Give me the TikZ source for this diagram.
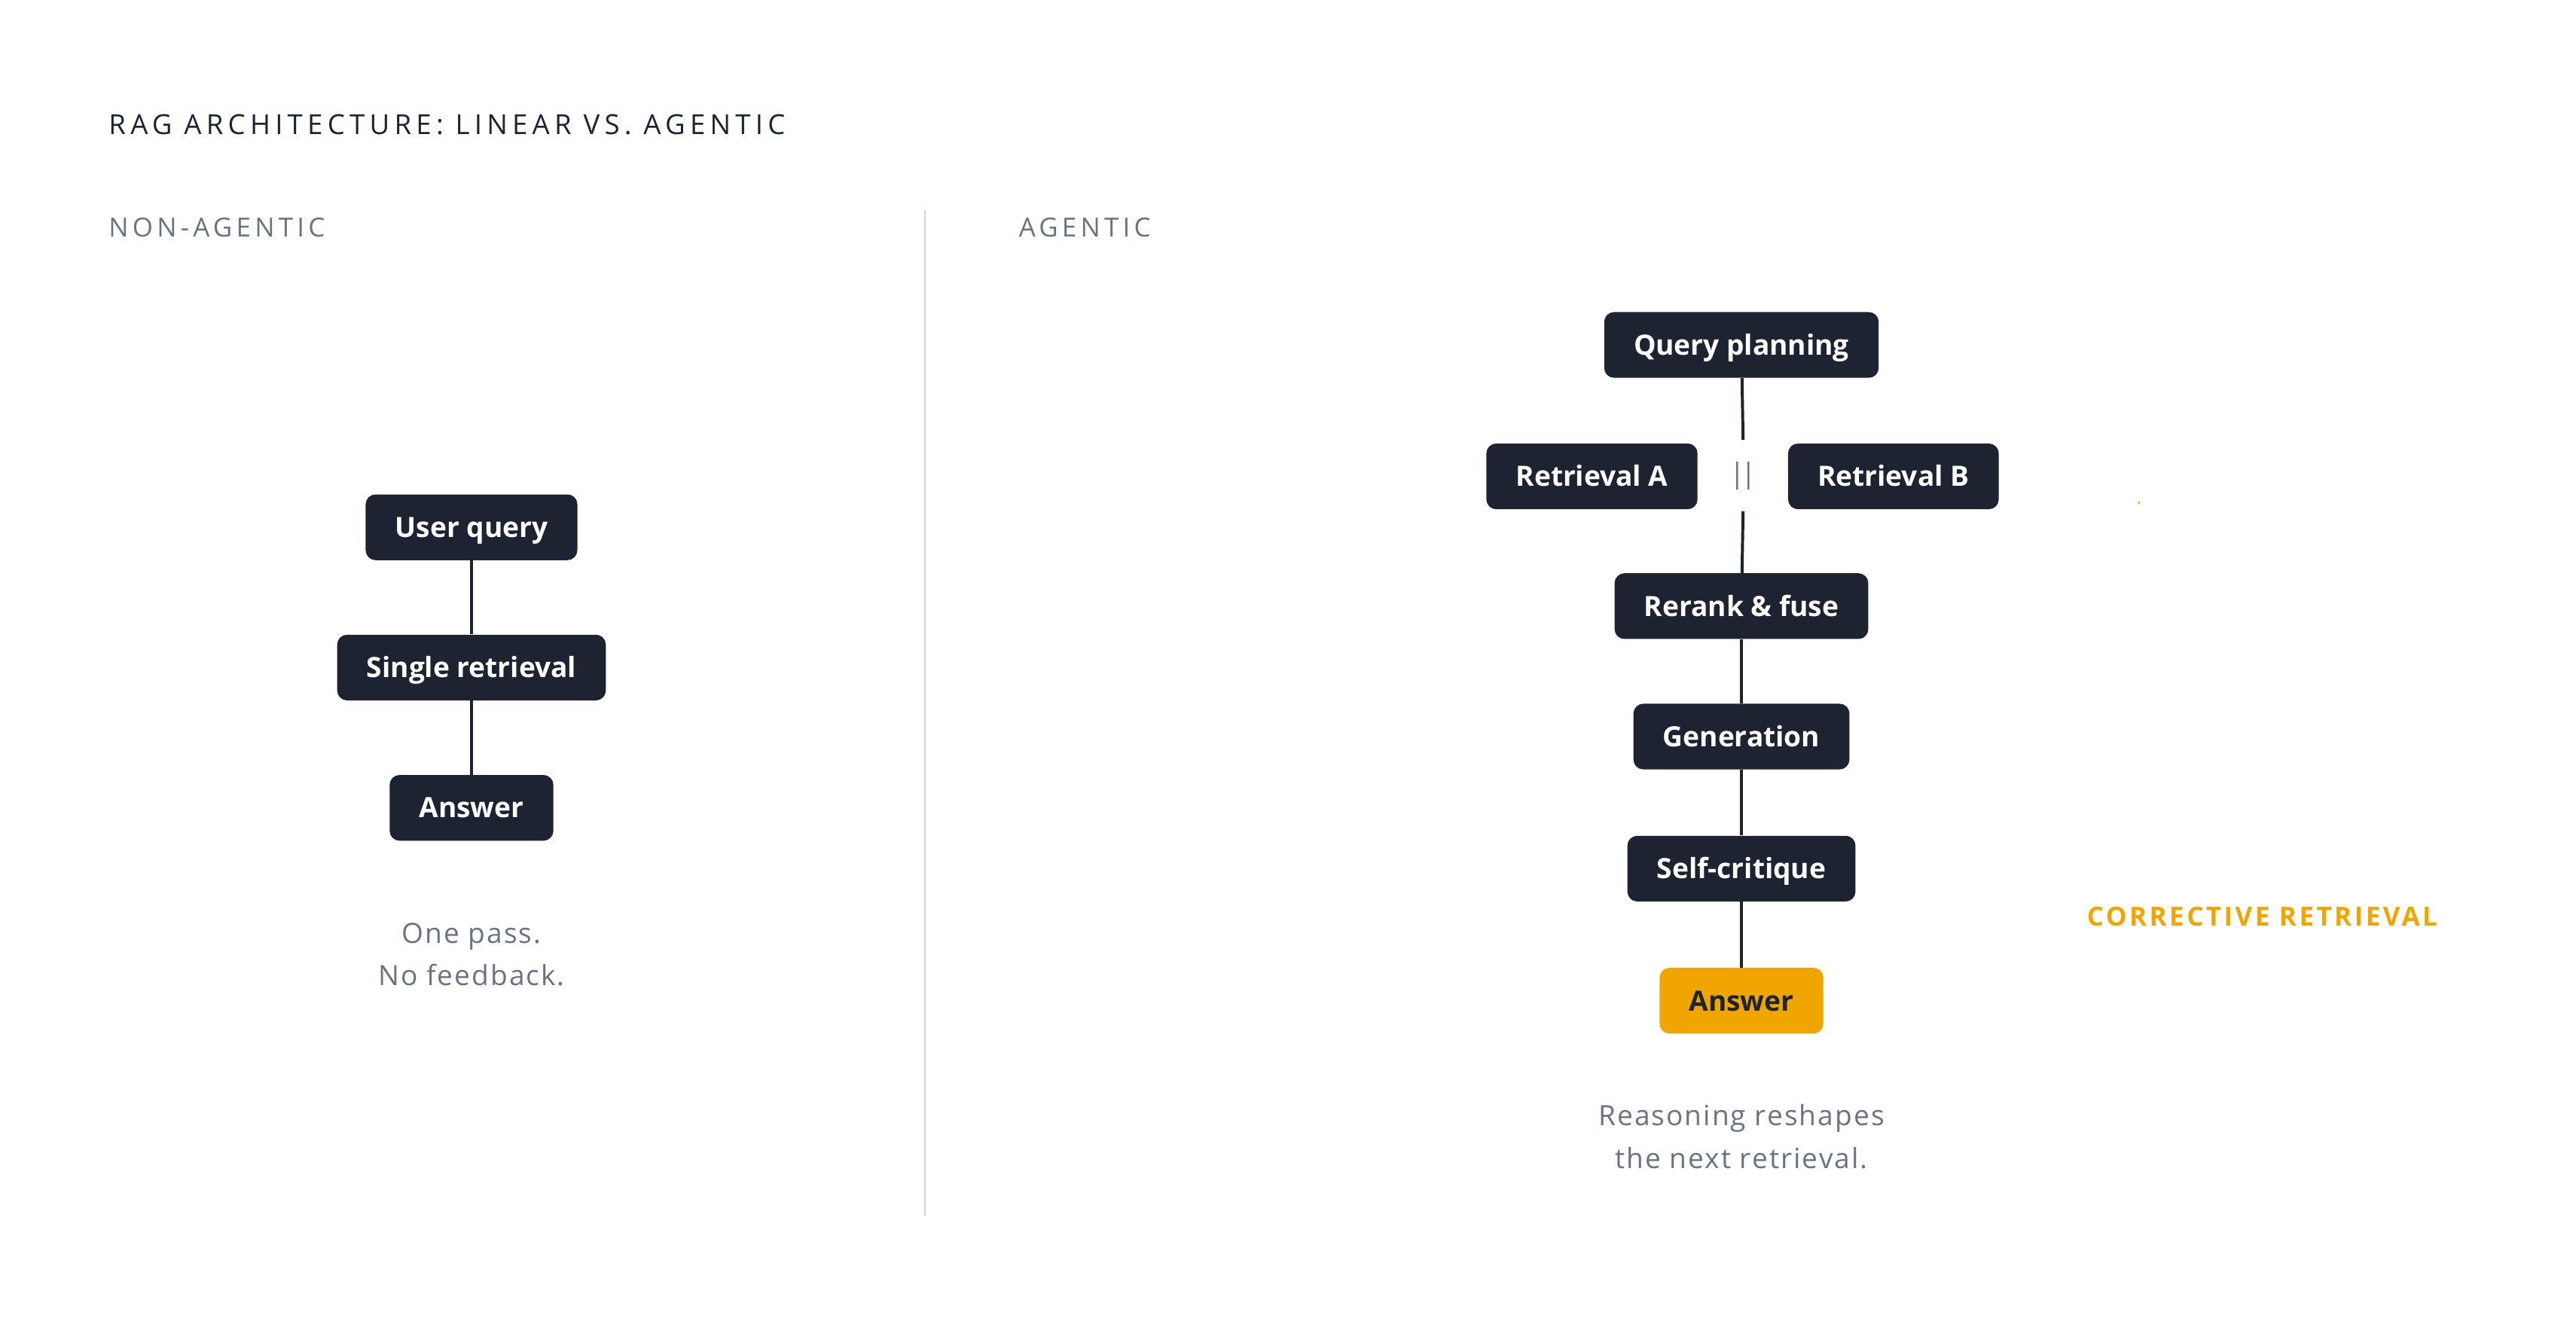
\documentclass[tikz,border=0pt]{standalone}
\usepackage{fontspec}
\setmainfont{Open Sans}
\usepackage{xcolor}
\usetikzlibrary{positioning}
\definecolor{boxnavy}{HTML}{1E2331}
\definecolor{textgray}{HTML}{6B7280}
\definecolor{ruleGray}{HTML}{D1D5DB}
\definecolor{answerorange}{HTML}{F0A500}

\begin{document}
\begin{tikzpicture}[x=1pt, y=-1pt,
  stage/.style={fill=boxnavy, text=white, rounded corners=6pt, minimum height=40pt, inner xsep=18pt,
    text height=12.2pt, text depth=0pt, font=\fontsize{17}{20}\selectfont\bfseries},
  final/.style={stage, fill=answerorange, text=boxnavy},
  heading/.style={anchor=base west, text=textgray, inner sep=0pt,
    font=\fontsize{16}{19}\selectfont\addfontfeature{LetterSpace=15}},
  caption/.style={text=textgray, align=center, inner sep=0pt,
    font=\fontsize{17}{26}\selectfont\addfontfeature{LetterSpace=5.5}},
  link/.style={draw=boxnavy, line width=1.8pt}]
\useasboundingbox (0,0) rectangle (1568,807.4);

% headings
\node[heading, text=boxnavy, font=\fontsize{16.8}{19}\selectfont\addfontfeature{LetterSpace=17}] (title) at (66,82) {RAG ARCHITECTURE: LINEAR VS. AGENTIC};
\node[heading] (nonagentic) at (66,144) {NON-AGENTIC};
\node[heading] (agentic) at (620,144) {AGENTIC};
\draw[ruleGray, line width=1.2pt] (563,128) coordinate (divtop) -- (563,740) coordinate (divbot);

% non-agentic chain
\node[stage] (userquery) at (287,321) {User query};
\node[stage, below=45pt of userquery] (single) {Single retrieval};
\node[stage, below=45pt of single] (answerL) {Answer};
\node[caption] (onepass) at (287,581) {One pass.\\No feedback.};
\draw[link] (userquery) -- (single);
\draw[link] (single) -- (answerL);

% agentic chain
\node[stage] (planning) at (1060,210) {Query planning};
\node[text=textgray, minimum height=43pt, inner sep=0pt, font=\fontsize{17}{20}\selectfont] (parallel) at (1061,289.5) {|\kern-2.6pt|};
\node[stage] (retrA) at (969,290) {Retrieval A};
\node[stage] (retrB) at (1152.5,290) {Retrieval B};
\node[stage] (rerank) at (1060,369) {Rerank \& fuse};
\node[stage, below=39pt of rerank] (generation) {Generation};
\node[stage, below=40pt of generation] (critique) {Self-critique};
\node[final, below=40pt of critique] (answerR) {Answer};
\node[caption] (reshapes) at (1060,692) {Reasoning reshapes\\the next retrieval.};
\draw[link] (planning) -- (parallel.north);
\draw[link] (parallel.south) -- (rerank);
\draw[link] (rerank) -- (generation);
\draw[link] (generation) -- (critique);
\draw[link] (critique) -- (answerR);

\node[text=answerorange, inner sep=0pt, font=\fontsize{16}{19}\selectfont\bfseries\addfontfeature{LetterSpace=10}] (corrective) at (1377,558) {CORRECTIVE RETRIEVAL};
\fill[answerorange] (1302,306) circle (0.8pt);
\end{tikzpicture}
\end{document}
